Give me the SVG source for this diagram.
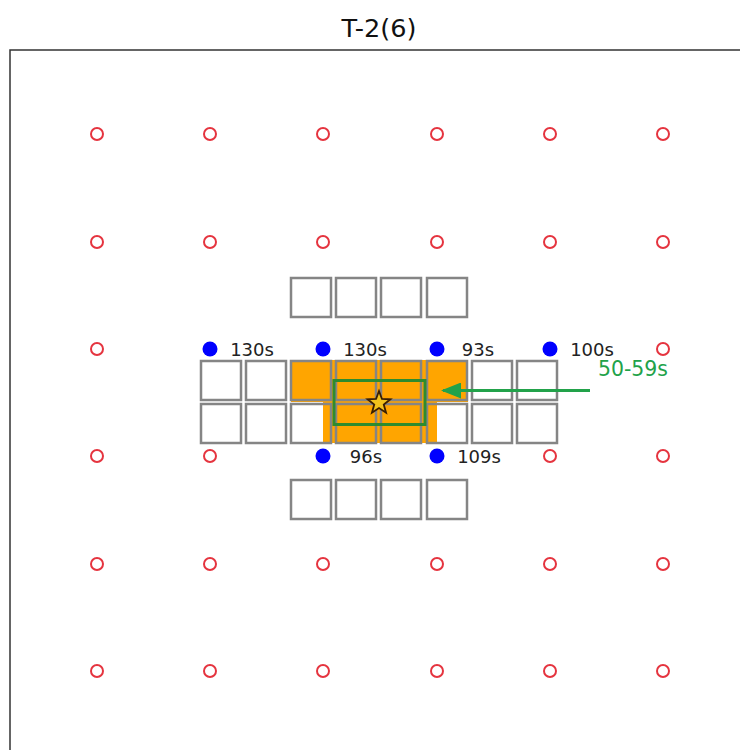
<svg xmlns="http://www.w3.org/2000/svg" width="740" height="750" viewBox="0 0 740 750">
<defs>
<style>
.ring{fill:none;stroke:#e5343f;stroke-width:2}
.dot{fill:#0000ff}
.box{fill:none;stroke:#858585;stroke-width:2.5}
.lbl{font-family:"DejaVu Sans",sans-serif;font-size:18px;fill:#222;text-anchor:middle}
</style>
<marker id="ah" markerWidth="20" markerHeight="16" refX="18" refY="8" orient="auto" markerUnits="userSpaceOnUse">
<path d="M20,8 L0,0 L0,16 Z" fill="#22a24a"/>
</marker>
</defs>
<rect width="740" height="750" fill="#fff"/>
<text x="379" y="37" font-family="DejaVu Sans,sans-serif" font-size="24" fill="#111" text-anchor="middle" textLength="75" lengthAdjust="spacingAndGlyphs">T-2(6)</text>
<path d="M10,760 L10,50 L750,50" fill="none" stroke="#333" stroke-width="1.5"/>
<g id="orange-area">
<path d="M291,360 L468,360 L468,402 L437,402 L437,443 L323,443 L323,402 L291,402 Z" fill="#ffa500"/>
</g>
<g id="rings">
<circle class="ring" cx="97" cy="134" r="6"/><circle class="ring" cx="210" cy="134" r="6"/><circle class="ring" cx="323" cy="134" r="6"/><circle class="ring" cx="437" cy="134" r="6"/><circle class="ring" cx="550" cy="134" r="6"/><circle class="ring" cx="663" cy="134" r="6"/>
<circle class="ring" cx="97" cy="242" r="6"/><circle class="ring" cx="210" cy="242" r="6"/><circle class="ring" cx="323" cy="242" r="6"/><circle class="ring" cx="437" cy="242" r="6"/><circle class="ring" cx="550" cy="242" r="6"/><circle class="ring" cx="663" cy="242" r="6"/>
<circle class="ring" cx="97" cy="349" r="6"/><circle class="ring" cx="663" cy="349" r="6"/>
<circle class="ring" cx="97" cy="456" r="6"/><circle class="ring" cx="210" cy="456" r="6"/><circle class="ring" cx="550" cy="456" r="6"/><circle class="ring" cx="663" cy="456" r="6"/>
<circle class="ring" cx="97" cy="564" r="6"/><circle class="ring" cx="210" cy="564" r="6"/><circle class="ring" cx="323" cy="564" r="6"/><circle class="ring" cx="437" cy="564" r="6"/><circle class="ring" cx="550" cy="564" r="6"/><circle class="ring" cx="663" cy="564" r="6"/>
<circle class="ring" cx="97" cy="671" r="6"/><circle class="ring" cx="210" cy="671" r="6"/><circle class="ring" cx="323" cy="671" r="6"/><circle class="ring" cx="437" cy="671" r="6"/><circle class="ring" cx="550" cy="671" r="6"/><circle class="ring" cx="663" cy="671" r="6"/>
</g>
<g id="boxes">
<rect class="box" x="291" y="278" width="40" height="39"/><rect class="box" x="336" y="278" width="40" height="39"/><rect class="box" x="381" y="278" width="40" height="39"/><rect class="box" x="427" y="278" width="40" height="39"/>
<rect class="box" x="201" y="361" width="40" height="39"/><rect class="box" x="246" y="361" width="40" height="39"/><rect class="box" x="291" y="361" width="40" height="39"/><rect class="box" x="336" y="361" width="40" height="39"/><rect class="box" x="381" y="361" width="40" height="39"/><rect class="box" x="427" y="361" width="40" height="39"/><rect class="box" x="472" y="361" width="40" height="39"/><rect class="box" x="517" y="361" width="40" height="39"/>
<rect class="box" x="201" y="404" width="40" height="39"/><rect class="box" x="246" y="404" width="40" height="39"/><rect class="box" x="291" y="404" width="40" height="39"/><rect class="box" x="336" y="404" width="40" height="39"/><rect class="box" x="381" y="404" width="40" height="39"/><rect class="box" x="427" y="404" width="40" height="39"/><rect class="box" x="472" y="404" width="40" height="39"/><rect class="box" x="517" y="404" width="40" height="39"/>
<rect class="box" x="291" y="480" width="40" height="39"/><rect class="box" x="336" y="480" width="40" height="39"/><rect class="box" x="381" y="480" width="40" height="39"/><rect class="box" x="427" y="480" width="40" height="39"/>
</g>
<g id="target">
<rect x="334" y="380.5" width="91" height="44" fill="none" stroke="#2e8b2e" stroke-width="3"/>
<polygon points="379,391 381.94,398.95 390.41,399.29 383.76,404.55 386.05,412.71 379,408 371.95,412.71 374.24,404.55 367.59,399.29 376.06,398.95" fill="#f2c21b" stroke="#3a1e00" stroke-width="1.8" stroke-linejoin="miter"/>
</g>
<g id="stations">
<g id="s1"><circle class="dot" cx="210" cy="349" r="7.5"/><text class="lbl" x="252" y="356">130s</text></g>
<g id="s2"><circle class="dot" cx="323" cy="349" r="7.5"/><text class="lbl" x="365" y="356">130s</text></g>
<g id="s3"><circle class="dot" cx="437" cy="349" r="7.5"/><text class="lbl" x="478" y="356">93s</text></g>
<g id="s4"><circle class="dot" cx="550" cy="349" r="7.5"/><text class="lbl" x="592" y="356">100s</text></g>
<g id="s5"><circle class="dot" cx="323" cy="456" r="7.5"/><text class="lbl" x="366" y="463">96s</text></g>
<g id="s6"><circle class="dot" cx="437" cy="456" r="7.5"/><text class="lbl" x="479" y="463">109s</text></g>
</g>
<g id="connectors">
<line x1="590" y1="390.5" x2="443" y2="390.5" stroke="#22a24a" stroke-width="3" marker-end="url(#ah)"/>
<text x="633" y="376" font-family="DejaVu Sans,sans-serif" font-size="21" fill="#22a24a" text-anchor="middle" textLength="70" lengthAdjust="spacingAndGlyphs">50-59s</text>
</g>
</svg>
